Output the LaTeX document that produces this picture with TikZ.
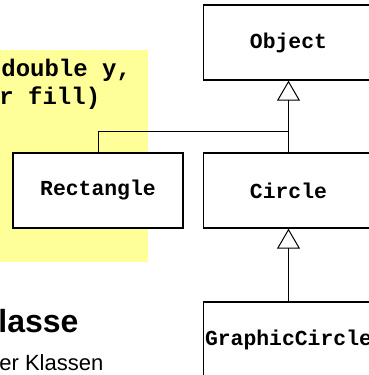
\documentclass[tikz,border=0pt]{standalone}
\usepackage{fontspec}
\setmainfont{Liberation Sans}
\newfontfamily\codefont{Liberation Mono}
\usetikzlibrary{arrows.meta}

\definecolor{notebg}{HTML}{FFFF99}

\tikzset{
  classbox/.style={draw, line width=0.7pt, fill=white, minimum width=85pt,
    minimum height=37.5pt, inner sep=0pt,
    font=\codefont\bfseries\fontsize{10.7}{12}\selectfont},
  codeline/.style={anchor=base west, inner sep=0pt,
    font=\codefont\bfseries\fontsize{12}{14}\selectfont},
  inherit/.style={line width=0.5pt, -{Triangle[open, length=10pt, width=11.5pt]}}
}

\begin{document}
\begin{tikzpicture}[x=0.5pt, y=-0.5pt]
    \clip (0,0) rectangle (369,375);
    \fill[white] (0,0) rectangle (369,375);
    % yellow note with code behind the classes
    \fill[notebg] (0,50) rectangle (148,262);
    \node[codeline] (code1) at (1,76) {double y,};
    \node[codeline] (code2) at (-1,104) {r fill)};

    % class hierarchy
    \node[classbox] (obj) at (288.5,42.5) {Object};
    \node[classbox] (rect) at (98,190.5) {Rectangle};
    \node[classbox] (circ) at (288.5,190.5) {Circle};
    \node[classbox] (gcirc) at (288.5,339.5) {GraphicCircle};

    \coordinate (join) at (288.5,131);
    \draw[inherit] (circ.north) -- (obj.south);
    \draw[line width=0.5pt] (rect.north) |- (join);
    \draw[inherit] (gcirc.north) -- (circ.south);

    % heading below
    \node[anchor=base west, inner sep=0pt, font=\bfseries\fontsize{16}{19}\selectfont]
        (title) at (-2,332) {lasse};
    \node[anchor=base west, inner sep=0pt, font=\fontsize{11}{13}\selectfont]
        (sub) at (-1,370) {er Klassen};
\end{tikzpicture}
\end{document}
